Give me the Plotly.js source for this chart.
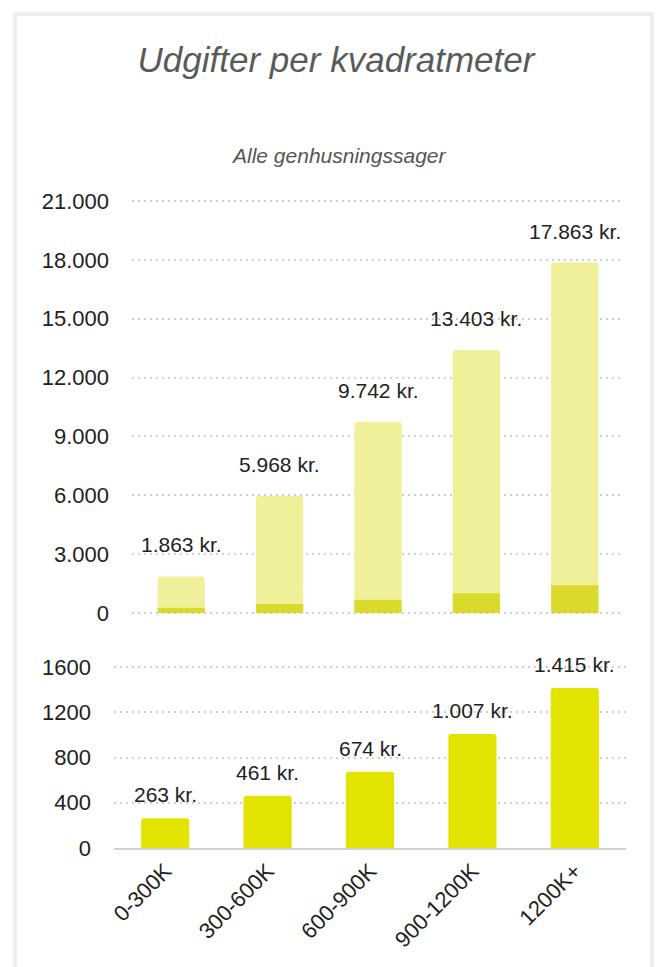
<!DOCTYPE html>
<html>
<head>
<meta charset="utf-8">
<script src="https://cdn.plot.ly/plotly-3.0.1.min.js"></script>
<style>
html,body{margin:0;padding:0;background:#fff;}
#chart{width:658px;height:967px;}
</style>
</head>
<body>
<div id="chart"></div>
<script>
const categories = ['0-300K', '300-600K', '600-900K', '900-1200K', '1200K+'];
const totalValues = [1863, 5968, 9742, 13403, 17863];
const perM2Values = [263, 461, 674, 1007, 1415];
const topTicks = [0, 3000, 6000, 9000, 12000, 15000, 18000, 21000];
const bottomTicks = [0, 400, 800, 1200, 1600];

function fmt(v) {
  return String(v).replace(/\B(?=(\d{3})+(?!\d))/g, '.');
}

const W = 658, H = 967;
const px = x => x / W;
const py = y => 1 - y / H;

const FONT = 'Liberation Sans, Arial, Helvetica, sans-serif';

const traces = [
  {
    type: 'bar', x: categories, y: totalValues, xaxis: 'x', yaxis: 'y',
    width: 0.48,
    marker: {color: '#f0f09a', cornerradius: 3},
    hoverinfo: 'skip', showlegend: false
  },
  {
    type: 'bar', x: categories, y: perM2Values, xaxis: 'x', yaxis: 'y',
    width: 0.48,
    marker: {color: '#dada2c'},
    hoverinfo: 'skip', showlegend: false
  },
  {
    type: 'bar', x: categories, y: perM2Values, xaxis: 'x2', yaxis: 'y2',
    width: 0.47,
    marker: {color: '#e3e300', cornerradius: 3},
    hoverinfo: 'skip', showlegend: false
  }
];

const annotations = [];
categories.forEach((c, i) => {
  annotations.push({
    x: c, y: totalValues[i], xref: 'x', yref: 'y',
    text: fmt(totalValues[i]) + ' kr.', showarrow: false,
    yanchor: 'bottom', yshift: 18,
    font: {family: FONT, size: 21, color: '#222'}
  });
  annotations.push({
    x: c, y: perM2Values[i], xref: 'x2', yref: 'y2',
    text: fmt(perM2Values[i]) + ' kr.', showarrow: false,
    yanchor: 'bottom', yshift: 10,
    font: {family: FONT, size: 21, color: '#222'}
  });
});
annotations.push({
  xref: 'paper', yref: 'paper', x: px(338), y: py(155),
  text: '<i>Alle genhusningssager</i>', showarrow: false,
  xanchor: 'center', yanchor: 'middle',
  font: {family: FONT, size: 21, color: '#555'}
});

const topK = (613 - 201) / 21000;
const botK = (848 - 667) / 1600;

const layout = {
  width: W, height: H,
  margin: {l: 0, r: 0, t: 0, b: 0},
  paper_bgcolor: '#fff', plot_bgcolor: 'rgba(0,0,0,0)',
  barmode: 'overlay',
  separators: ',.',
  title: {
    text: '<i>Udgifter per kvadratmeter</i>',
    x: px(336), xanchor: 'center', y: py(60), yanchor: 'middle',
    font: {family: FONT, size: 35, color: '#5a5a5a'}
  },
  xaxis: {
    domain: [px(132), px(624)], anchor: 'y',
    showticklabels: false, showgrid: false, zeroline: false, showline: false,
    fixedrange: true
  },
  yaxis: {
    domain: [py(613 + 150 * topK), py(201 - 150 * topK)], anchor: 'x',
    range: [-150, 21150], tickvals: topTicks,
    ticktext: topTicks.map(fmt),
    showgrid: true, gridcolor: '#cfcfcf', gridwidth: 2, griddash: '2px,4px',
    zeroline: false, showline: false, ticks: '',
    ticklabelstandoff: 22,
    tickfont: {family: FONT, size: 22, color: '#222'},
    fixedrange: true
  },
  xaxis2: {
    domain: [px(114), px(626)], anchor: 'y2',
    showgrid: false, zeroline: false,
    showline: true, linecolor: '#d0d0d0', linewidth: 1.5,
    ticks: '', tickangle: -45,
    tickfont: {family: FONT, size: 22, color: '#222'},
    fixedrange: true
  },
  yaxis2: {
    domain: [py(848), py(667 - 12 * botK)], anchor: 'x2',
    range: [0, 1612], tickvals: bottomTicks,
    ticktext: bottomTicks.map(String),
    showgrid: true, gridcolor: '#cfcfcf', gridwidth: 2, griddash: '2px,4px',
    zeroline: false, showline: false, ticks: '',
    ticklabelstandoff: 22,
    tickfont: {family: FONT, size: 22, color: '#222'},
    fixedrange: true
  },
  annotations: annotations,
  shapes: [{
    type: 'rect', xref: 'paper', yref: 'paper',
    x0: px(15), x1: px(652), y0: -0.05, y1: py(14),
    line: {color: '#eeeeee', width: 4}, fillcolor: 'rgba(0,0,0,0)',
    layer: 'below'
  }]
};

Plotly.newPlot('chart', traces, layout, {displayModeBar: false, staticPlot: true});
</script>
</body>
</html>
